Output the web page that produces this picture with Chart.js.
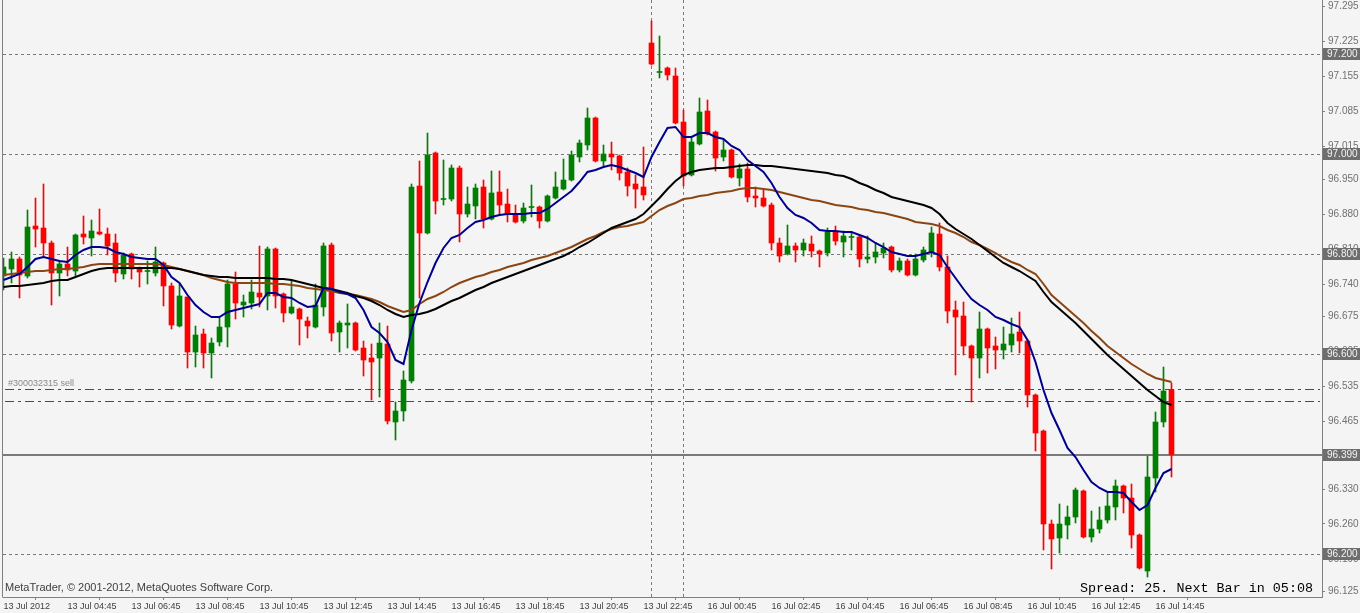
<!DOCTYPE html>
<html><head><meta charset="utf-8">
<script src="https://cdn.jsdelivr.net/npm/chart.js@4.4.0/dist/chart.umd.min.js"></script>
<style>html,body{margin:0;padding:0;background:#f4f4f4;overflow:hidden}canvas{display:block}</style>
</head><body><canvas id="c" width="1360" height="613"></canvas>
<script>
const openP = [96.756,96.770,96.790,96.756,96.856,96.852,96.822,96.762,96.780,96.766,
96.840,96.832,96.844,96.840,96.822,96.760,96.800,96.772,96.765,96.762,
96.782,96.736,96.656,96.714,96.604,96.640,96.602,96.624,96.654,96.740,
96.698,96.702,96.722,96.716,96.810,96.720,96.682,96.690,96.666,96.654,
96.694,96.818,96.644,96.658,96.662,96.612,96.592,96.592,96.620,96.464,
96.486,96.546,96.936,96.842,97.002,96.909,96.910,96.972,96.880,96.896,
96.934,96.870,96.924,96.900,96.880,96.866,96.893,96.894,96.866,96.912,
96.930,96.948,96.994,97.018,97.072,96.986,97.000,96.996,96.964,96.940,
96.934,97.222,97.163,97.172,97.156,97.064,96.958,97.020,97.086,97.044,
96.994,97.008,96.952,96.970,96.916,96.912,96.898,96.822,96.800,96.816,
96.808,96.820,96.806,96.802,96.844,96.824,96.833,96.834,96.790,96.794,
96.802,96.814,96.768,96.786,96.758,96.788,96.804,96.840,96.774,96.688,
96.676,96.616,96.592,96.650,96.616,96.608,96.618,96.644,96.626,96.518,
96.446,96.260,96.232,96.258,96.274,96.326,96.234,96.250,96.268,96.294,
96.336,96.312,96.238,96.166,96.352,96.464,96.528];
const highP = [96.792,96.804,96.794,96.888,96.912,96.940,96.826,96.786,96.814,96.840,
96.876,96.868,96.890,96.852,96.840,96.802,96.802,96.774,96.786,96.814,
96.784,96.742,96.740,96.714,96.656,96.650,96.632,96.672,96.748,96.764,
96.718,96.748,96.816,96.814,96.812,96.722,96.748,96.692,96.674,96.740,
96.822,96.822,96.666,96.700,96.664,96.626,96.620,96.662,96.656,96.504,
96.566,96.940,96.986,97.042,97.004,96.988,96.978,96.976,96.934,96.940,
96.948,96.966,96.966,96.930,96.898,96.902,96.938,96.896,96.918,96.964,
96.990,97.006,97.028,97.092,97.074,97.018,97.024,96.998,96.972,96.958,
97.014,97.266,97.236,97.174,97.172,97.088,97.034,97.112,97.108,97.046,
97.028,97.010,96.980,96.982,96.934,96.928,96.902,96.832,96.858,96.822,
96.830,96.836,96.808,96.852,96.856,96.846,96.844,96.838,96.836,96.822,
96.822,96.816,96.792,96.790,96.800,96.814,96.854,96.862,96.796,96.706,
96.704,96.618,96.684,96.652,96.634,96.654,96.672,96.684,96.628,96.520,
96.448,96.268,96.300,96.296,96.332,96.328,96.286,96.294,96.322,96.348,
96.338,96.340,96.240,96.396,96.484,96.574,96.542];
const lowP = [96.728,96.742,96.712,96.752,96.814,96.794,96.698,96.716,96.756,96.756,
96.820,96.796,96.838,96.798,96.744,96.750,96.750,96.734,96.740,96.756,
96.696,96.650,96.654,96.572,96.574,96.572,96.552,96.616,96.614,96.670,
96.674,96.690,96.694,96.688,96.692,96.664,96.680,96.618,96.632,96.652,
96.676,96.626,96.604,96.612,96.606,96.556,96.508,96.514,96.460,96.428,
96.466,96.542,96.712,96.840,96.880,96.898,96.906,96.824,96.874,96.870,
96.852,96.868,96.878,96.864,96.862,96.862,96.874,96.852,96.864,96.910,
96.928,96.946,96.984,97.008,96.984,96.974,96.968,96.948,96.916,96.892,
96.908,97.178,97.152,97.148,97.060,96.936,96.956,97.018,97.038,96.966,
96.986,96.952,96.936,96.904,96.894,96.894,96.808,96.784,96.798,96.784,
96.796,96.794,96.774,96.796,96.818,96.794,96.808,96.774,96.782,96.782,
96.792,96.764,96.764,96.756,96.756,96.784,96.794,96.766,96.662,96.558,
96.598,96.504,96.552,96.562,96.570,96.590,96.604,96.602,96.494,96.406,
96.208,96.170,96.202,96.230,96.262,96.232,96.224,96.242,96.262,96.268,
96.282,96.212,96.170,96.154,96.324,96.454,96.354];
const closeP = [96.774,96.790,96.758,96.854,96.850,96.822,96.762,96.780,96.768,96.838,
96.834,96.846,96.840,96.816,96.762,96.798,96.770,96.764,96.767,96.784,
96.736,96.658,96.716,96.604,96.638,96.602,96.622,96.654,96.740,96.702,
96.704,96.724,96.714,96.810,96.716,96.682,96.694,96.670,96.656,96.698,
96.816,96.642,96.662,96.662,96.608,96.588,96.584,96.622,96.466,96.486,
96.548,96.934,96.842,96.998,96.906,96.910,96.972,96.880,96.900,96.932,
96.870,96.922,96.898,96.880,96.864,96.892,96.894,96.866,96.916,96.934,
96.948,96.998,97.022,97.072,96.986,97.000,96.994,96.962,96.936,96.930,
96.918,97.180,97.164,97.158,97.062,96.956,97.024,97.084,97.040,96.992,
97.008,96.954,96.970,96.914,96.912,96.896,96.822,96.796,96.816,96.808,
96.822,96.806,96.800,96.844,96.826,96.836,96.835,96.790,96.794,96.804,
96.812,96.768,96.786,96.758,96.790,96.808,96.842,96.774,96.686,96.674,
96.616,96.592,96.650,96.612,96.608,96.620,96.640,96.626,96.518,96.442,
96.260,96.230,96.260,96.274,96.328,96.234,96.250,96.268,96.296,96.336,
96.312,96.238,96.172,96.354,96.464,96.526,96.399];
const maFast = [96.748,96.754,96.760,96.774,96.790,96.794,96.790,96.786,96.784,96.798,
96.808,96.814,96.814,96.812,96.804,96.800,96.794,96.792,96.790,96.790,
96.778,96.754,96.742,96.718,96.698,96.684,96.674,96.674,96.684,96.688,
96.692,96.696,96.700,96.722,96.722,96.714,96.712,96.702,96.694,96.696,
96.732,96.730,96.724,96.720,96.712,96.688,96.654,96.642,96.624,96.588,
96.580,96.648,96.702,96.744,96.782,96.812,96.832,96.838,96.852,96.864,
96.868,96.874,96.878,96.880,96.880,96.880,96.882,96.882,96.890,96.902,
96.914,96.926,96.944,96.964,96.968,96.974,96.978,96.974,96.968,96.962,
96.954,96.994,97.024,97.052,97.054,97.034,97.034,97.042,97.042,97.034,
97.030,97.016,97.008,96.988,96.976,96.964,96.942,96.914,96.892,96.878,
96.872,96.862,96.848,96.846,96.846,96.844,96.844,96.838,96.832,96.822,
96.814,96.804,96.800,96.796,96.796,96.800,96.804,96.798,96.774,96.752,
96.730,96.710,96.698,96.688,96.674,96.668,96.660,96.654,96.628,96.584,
96.528,96.482,96.448,96.412,96.394,96.368,96.344,96.332,96.324,96.324,
96.322,96.304,96.288,96.298,96.332,96.362,96.370];
const maMid = [96.734,96.736,96.736,96.738,96.740,96.742,96.746,96.748,96.748,96.754,
96.760,96.766,96.770,96.772,96.772,96.772,96.772,96.772,96.772,96.772,
96.772,96.772,96.770,96.766,96.762,96.758,96.756,96.754,96.754,96.752,
96.752,96.752,96.752,96.752,96.750,96.750,96.748,96.744,96.740,96.736,
96.732,96.730,96.726,96.722,96.716,96.712,96.706,96.698,96.688,96.680,
96.674,96.678,96.680,96.684,96.690,96.698,96.706,96.712,96.720,96.728,
96.734,96.742,96.748,96.754,96.760,96.766,96.772,96.778,96.784,96.790,
96.796,96.804,96.814,96.822,96.832,96.842,96.852,96.858,96.864,96.870,
96.880,96.896,96.912,96.930,96.946,96.958,96.964,96.968,96.970,96.972,
96.972,96.974,96.976,96.978,96.978,96.976,96.976,96.974,96.972,96.970,
96.968,96.966,96.964,96.962,96.958,96.956,96.950,96.942,96.936,96.928,
96.922,96.914,96.910,96.906,96.902,96.898,96.892,96.880,96.862,96.850,
96.840,96.830,96.818,96.806,96.794,96.782,96.774,96.766,96.756,96.746,
96.724,96.704,96.690,96.676,96.662,96.646,96.630,96.614,96.598,96.584,
96.570,96.556,96.542,96.528,96.516,96.504,96.498];
const maSlow = [96.758,96.760,96.762,96.764,96.766,96.766,96.768,96.770,96.770,96.772,
96.774,96.778,96.780,96.780,96.780,96.780,96.780,96.780,96.780,96.780,
96.778,96.774,96.770,96.766,96.762,96.758,96.752,96.748,96.744,96.742,
96.742,96.742,96.742,96.742,96.740,96.740,96.738,96.736,96.732,96.730,
96.728,96.726,96.722,96.720,96.718,96.714,96.710,96.704,96.696,96.690,
96.684,96.688,96.700,96.710,96.716,96.724,96.734,96.742,96.748,96.754,
96.758,96.764,96.768,96.774,96.778,96.782,96.788,96.792,96.796,96.802,
96.808,96.814,96.822,96.830,96.836,96.844,96.850,96.854,96.856,96.860,
96.864,96.876,96.888,96.896,96.902,96.910,96.912,96.916,96.918,96.922,
96.924,96.926,96.930,96.932,96.932,96.930,96.928,96.924,96.920,96.916,
96.912,96.908,96.906,96.902,96.898,96.896,96.894,96.890,96.888,96.884,
96.882,96.878,96.874,96.870,96.864,96.862,96.860,96.856,96.848,96.842,
96.834,96.824,96.818,96.810,96.802,96.792,96.784,96.778,96.768,96.760,
96.740,96.718,96.704,96.690,96.676,96.662,96.646,96.632,96.616,96.604,
96.592,96.580,96.570,96.560,96.552,96.548,96.544];
const xTickLabels = ["13 Jul 2012","13 Jul 04:45","13 Jul 06:45","13 Jul 08:45","13 Jul 10:45","13 Jul 12:45","13 Jul 14:45","13 Jul 16:45","13 Jul 18:45","13 Jul 20:45","13 Jul 22:45","16 Jul 00:45","16 Jul 02:45","16 Jul 04:45","16 Jul 06:45","16 Jul 08:45","16 Jul 10:45","16 Jul 12:45","16 Jul 14:45"];
const barsPerLabel = 8;
const yTickValues = [97.295,97.225,97.155,97.085,97.015,96.950,96.880,96.810,96.740,96.675,96.605,96.535,96.465,96.395,96.330,96.260,96.190,96.125];
const gridLevels = [97.2, 97.0, 96.8, 96.6, 96.2];
const markedLevels = [97.2, 97.0, 96.8, 96.6, 96.399, 96.2];
const bidPrice = 96.399;
const orderOpen = 96.530;
const orderStop = 96.506;
const orderLabel = "#300032315 sell";
const separatorBars = [81, 85];
const copyrightText = "MetaTrader, \u00a9 2001-2012, MetaQuotes Software Corp.";
const statusText = "Spread: 25. Next Bar in 05:08";

const GREEN = '#008000', RED = '#ff0000';
const candleColors = closeP.map((c, i) => c >= openP[i] ? GREEN : RED);
const wickData = highP.map((h, i) => ({x: i, y: [lowP[i], h]}));
const bodyData = openP.map((o, i) => ({x: i, y: [o, closeP[i]]}));
const toPts = arr => arr.map((v, i) => ({x: i, y: v}));

const overlay = {
  id: 'overlay',
  beforeDatasetsDraw(chart) {
    const {ctx, chartArea: a, scales: {x, y}} = chart;
    ctx.save();
    ctx.lineWidth = 1;
    ctx.strokeStyle = '#7a7a7a';
    ctx.setLineDash([3, 3]);
    gridLevels.forEach(v => {
      const py = Math.round(y.getPixelForValue(v)) + 0.5;
      ctx.beginPath(); ctx.moveTo(a.left, py); ctx.lineTo(a.right, py); ctx.stroke();
    });
    separatorBars.forEach(b => {
      const px = Math.floor(x.getPixelForValue(b)) + 0.5;
      ctx.beginPath(); ctx.moveTo(px, a.top); ctx.lineTo(px, a.bottom); ctx.stroke();
    });
    ctx.setLineDash([]);
    ctx.strokeStyle = '#7a7a7a'; ctx.lineWidth = 2;
    let py = Math.round(y.getPixelForValue(bidPrice));
    ctx.beginPath(); ctx.moveTo(a.left, py); ctx.lineTo(a.right, py); ctx.stroke();
    ctx.lineWidth = 1;
    ctx.setLineDash([9, 4, 3, 4]);
    ctx.strokeStyle = '#008000';
    py = Math.round(y.getPixelForValue(orderOpen)) + 0.5;
    ctx.beginPath(); ctx.moveTo(a.left + 2, py); ctx.lineTo(a.right - 2, py); ctx.stroke();
    ctx.strokeStyle = '#ff0000';
    const py2 = Math.round(y.getPixelForValue(orderStop)) + 0.5;
    ctx.beginPath(); ctx.moveTo(a.left + 2, py2); ctx.lineTo(a.right - 2, py2); ctx.stroke();
    ctx.setLineDash([]);
    ctx.fillStyle = '#8a8a8a';
    ctx.font = '9px "Liberation Sans", Arial, sans-serif';
    ctx.textAlign = 'left'; ctx.textBaseline = 'alphabetic';
    ctx.fillText(orderLabel, a.left + 5, py - 4);
    ctx.restore();
  },
  afterDraw(chart) {
    const {ctx, chartArea: a, scales: {y}} = chart;
    ctx.save();
    ctx.strokeStyle = '#808080'; ctx.lineWidth = 1;
    ctx.beginPath(); ctx.moveTo(a.left - 0.5, 0); ctx.lineTo(a.left - 0.5, a.bottom + 0.5); ctx.stroke();
    ctx.font = '10px "Liberation Sans", Arial, sans-serif';
    ctx.textBaseline = 'middle'; ctx.textAlign = 'left';
    markedLevels.forEach(v => {
      const py = Math.round(y.getPixelForValue(v));
      ctx.fillStyle = '#6e6e6e';
      ctx.fillRect(a.right + 1, py - 6, 1360 - a.right - 1, 12);
      ctx.fillStyle = '#f4f4f4';
      ctx.fillText(v.toFixed(3), a.right + 5, py + 0.5);
    });
    ctx.fillStyle = '#404040';
    ctx.font = '11px "Liberation Sans", Arial, sans-serif';
    ctx.textBaseline = 'alphabetic';
    ctx.fillText(copyrightText, a.left + 2, a.bottom - 6);
    ctx.fillStyle = '#000000';
    ctx.font = '13.4px "Liberation Mono", "DejaVu Sans Mono", monospace';
    ctx.textAlign = 'right';
    ctx.fillText(statusText, a.right - 9, a.bottom - 5);
    ctx.restore();
  }
};

const lineDs = (data, color) => ({type: 'line', data: toPts(data), borderColor: color, borderWidth: 2,
  pointRadius: 0, tension: 0, fill: false, order: 0});

new Chart(document.getElementById('c'), {
  type: 'bar',
  data: {
    datasets: [
      lineDs(maFast, '#00008c'),
      lineDs(maMid, '#000000'),
      lineDs(maSlow, '#8b4513'),
      {type: 'bar', data: bodyData, backgroundColor: candleColors, borderWidth: 0, barThickness: 5,
        grouped: false, minBarLength: 1, order: 1},
      {type: 'bar', data: wickData, backgroundColor: candleColors, borderWidth: 0, barThickness: 1,
        grouped: false, order: 2}
    ]
  },
  options: {
    responsive: false, animation: false, devicePixelRatio: 1,
    layout: {padding: {left: 3, top: 0, right: 0, bottom: 0}},
    plugins: {legend: {display: false}, tooltip: {enabled: false}},
    scales: {
      x: {
        type: 'linear', min: -0.0625, max: 164.8125, offset: false,
        afterBuildTicks: s => { s.ticks = xTickLabels.map((_, i) => ({value: i * barsPerLabel})); },
        afterFit: s => { s.height = 16; s.paddingLeft = 0; s.paddingRight = 0; },
        ticks: {autoSkip: false, maxRotation: 0, minRotation: 0, align: 'start', padding: 1, color: '#404040',
          font: {family: '"Liberation Sans Narrow", "Liberation Sans", Arial', size: 9},
          callback: v => xTickLabels[Math.round(v / barsPerLabel)]},
        grid: {drawOnChartArea: false, drawTicks: true, tickLength: 3, color: '#808080'},
        border: {display: true, color: '#808080'}
      },
      y: {
        type: 'linear', position: 'right', min: 96.114, max: 97.308,
        afterBuildTicks: s => { s.ticks = yTickValues.map(v => ({value: v})); },
        afterFit: s => { s.width = 38; s.paddingTop = 0; s.paddingBottom = 0; },
        ticks: {autoSkip: false, padding: 3, color: '#707070',
          font: {family: '"Liberation Sans", Arial', size: 10},
          callback: v => Number(v).toFixed(3)},
        grid: {drawOnChartArea: false, drawTicks: true, tickLength: 3, color: '#808080'},
        border: {display: true, color: '#808080'}
      }
    }
  },
  plugins: [overlay]
});
</script>
</body></html>
